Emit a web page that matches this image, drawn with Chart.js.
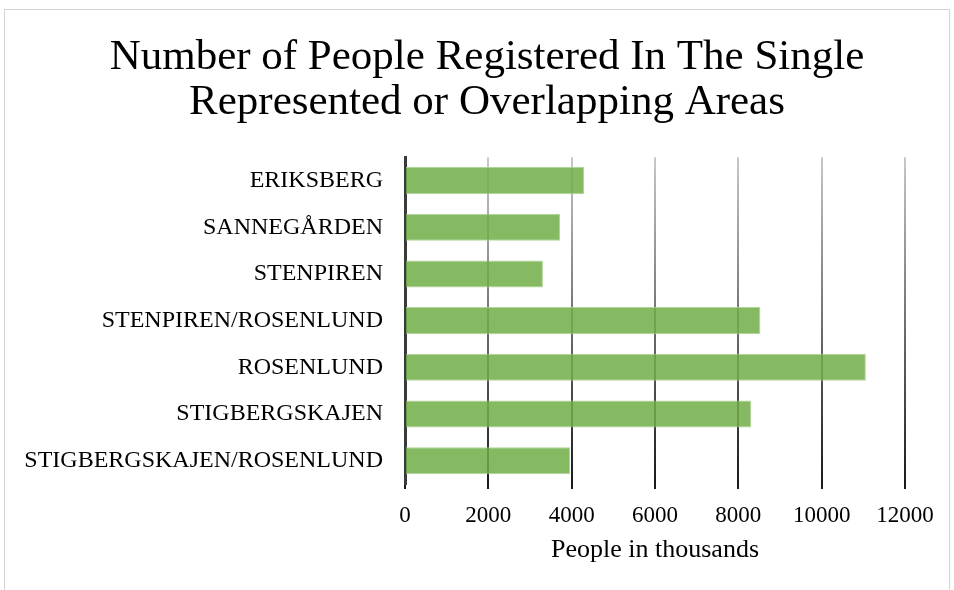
<!DOCTYPE html>
<html>
<head>
<meta charset="utf-8">
<script src="https://cdn.jsdelivr.net/npm/chart.js@4"></script>
<style>
  body { margin: 0; background: #fff; }
  #frame { position: absolute; left: 4px; top: 9px; width: 946px; height: 600px; border: 1px solid #d4d4d4; box-sizing: border-box; }
  #wrap { position: absolute; left: 0; top: 0; width: 954px; height: 590px; }
</style>
</head>
<body>
<div id="frame"></div>
<div id="wrap"><canvas id="chart"></canvas></div>
<script>
// Datos
const areas = ['ERIKSBERG', 'SANNEGÅRDEN', 'STENPIREN', 'STENPIREN/ROSENLUND', 'ROSENLUND', 'STIGBERGSKAJEN', 'STIGBERGSKAJEN/ROSENLUND'];
const people = [4300, 3720, 3310, 8530, 11060, 8310, 3960];
const xTicks = [0, 2000, 4000, 6000, 8000, 10000, 12000];

const serif = '"Liberation Serif", "Times New Roman", serif';

// gradiente de las líneas de la cuadrícula (claro arriba, oscuro abajo)
function gridColor(c) {
  const area = c.chart.chartArea;
  if (!area) return '#888';
  const g = c.chart.ctx.createLinearGradient(0, area.top, 0, area.bottom);
  g.addColorStop(0, '#c8c8c8');
  g.addColorStop(1, '#1a1a1a');
  return g;
}

// las etiquetas largas del eje Y salen del padding: quitar el recorte
const unclipLabels = {
  id: 'unclipLabels',
  afterLayout(chart) { chart.scales.y.left = 0; }
};

new Chart(document.getElementById('chart'), {
  type: 'bar',
  data: {
    labels: areas,
    datasets: [{
      data: people,
      backgroundColor: 'rgba(112, 173, 71, 0.85)',
      borderColor: 'rgba(169, 209, 142, 0.9)',
      borderWidth: 1,
      barPercentage: 0.58,
      categoryPercentage: 1
    }]
  },
  plugins: [unclipLabels],
  options: {
    indexAxis: 'y',
    responsive: true,
    maintainAspectRatio: false,
    animation: false,
    layout: { padding: { left: 69, right: 49, top: 35, bottom: 20 } },
    plugins: {
      legend: { display: false },
      tooltip: { enabled: false },
      title: {
        display: true,
        text: ['Number of People Registered In The Single', 'Represented or Overlapping Areas'],
        color: '#000',
        font: { family: serif, size: 43, weight: 'normal', lineHeight: 1.05 },
        padding: { top: 0, bottom: 32 }
      }
    },
    scales: {
      x: {
        min: 0,
        max: 12000,
        afterBuildTicks: s => { s.ticks = xTicks.map(v => ({ value: v })); },
        afterFit: s => { s.height = 86; },
        grid: { color: gridColor, lineWidth: 2, drawTicks: true, tickLength: 5 },
        border: { display: false },
        ticks: { color: '#000', font: { family: serif, size: 23 }, padding: 13, maxRotation: 0, callback: v => String(v) },
        title: { display: true, text: 'People in thousands', color: '#000', font: { family: serif, size: 26 }, padding: { top: 2 } }
      },
      y: {
        afterFit: s => { s.width = 336; },
        grid: { display: false },
        border: { display: true, color: '#3a3a3a', width: 3 },
        ticks: { color: '#000', font: { family: serif, size: 24 }, padding: 14 }
      }
    }
  }
});
</script>
</body>
</html>
